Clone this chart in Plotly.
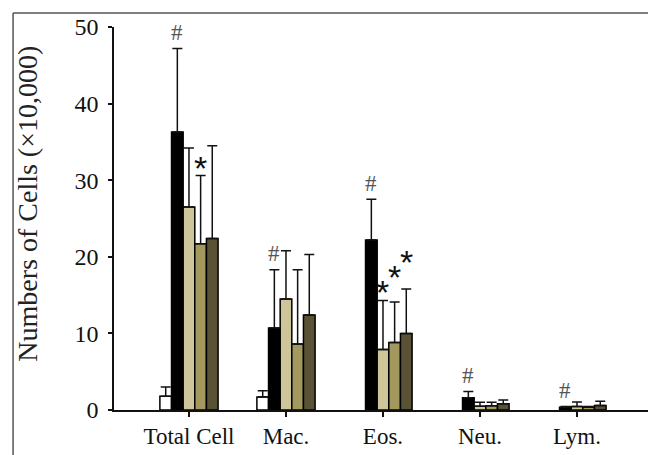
import plotly.graph_objects as go

categories = ["Total Cell", "Mac.", "Eos.", "Neu.", "Lym."]
series_names = ["Group 1", "Group 2", "Group 3", "Group 4", "Group 5"]
values = [
    [1.8, 1.7, None, None, None],
    [36.3, 10.7, 22.2, 1.6, 0.35],
    [26.5, 14.5, 7.9, 0.5, 0.45],
    [21.7, 8.6, 8.8, 0.55, 0.35],
    [22.4, 12.4, 10.0, 0.8, 0.6],
]
errors = [
    [1.2, 0.8, None, None, None],
    [10.9, 7.6, 5.3, 0.8, 0.1],
    [7.7, 6.3, 6.4, 0.5, 0.6],
    [8.9, 9.7, 5.3, 0.45, 0.1],
    [12.1, 7.9, 5.8, 0.5, 0.55],
]
colors = ["#ffffff", "#000000", "#cec59b", "#a3985d", "#5a5234"]
y_ticks = [0, 10, 20, 30, 40, 50]
# (category index, series index, symbol, extra pixel shift)
marks = [
    (0, 1, "#", 0), (0, 3, "*", 0),
    (1, 1, "#", 0),
    (2, 1, "#", 0), (2, 2, "*", 0), (2, 3, "*", 17), (2, 4, "*", 19),
    (3, 1, "#", 0),
    (4, 1, "#", 0),
]

SERIF = "Liberation Serif, Times New Roman, serif"
n = len(series_names)
bargap = 0.4
bw = (1 - bargap) / n

fig = go.Figure()
xs = list(range(len(categories)))
for i in range(n):
    fig.add_trace(go.Bar(
        x=xs, y=values[i], name=series_names[i],
        marker=dict(color=colors[i], line=dict(color="#000000", width=1.5)),
        error_y=dict(type="data", symmetric=False, array=errors[i],
                     arrayminus=[0] * len(categories),
                     color="#111111", thickness=1.5, width=5),
    ))

annotations = []
for ci, si, sym, shift in marks:
    top = (values[si][ci] or 0) + (errors[si][ci] or 0)
    xoff = (si - (n - 1) / 2) * bw
    if sym == "#":
        font = dict(family=SERIF, size=23, color="#555555")
        ys = 16 + shift
    else:
        font = dict(family="Liberation Sans, Arial, sans-serif", size=34, color="#111111")
        ys = 8 + shift
    annotations.append(dict(x=ci + xoff, y=top, xref="x", yref="y", text=sym,
                            showarrow=False, yanchor="middle", yshift=ys, font=font))

annotations.append(dict(x=-0.162, y=0.54, xref="paper", yref="paper",
                        text="Numbers of Cells (×10,000)", textangle=-90,
                        showarrow=False, xanchor="center", yanchor="middle",
                        font=dict(family=SERIF, size=28, color="#222222")))

frame_line = dict(color="#555555", width=1.5)
fig.update_layout(
    width=648, height=455,
    margin=dict(l=114, r=0, t=27, b=45),
    barmode="group", bargap=bargap, bargroupgap=0,
    showlegend=False,
    plot_bgcolor="white", paper_bgcolor="white",
    annotations=annotations,
    shapes=[
        dict(type="line", xref="paper", yref="paper",
             x0=-0.189, x1=1.2, y0=1.0366, y1=1.0366, line=frame_line, layer="below"),
        dict(type="line", xref="paper", yref="paper",
             x0=-0.189, x1=-0.189, y0=-0.3, y1=1.0366, line=frame_line, layer="below"),
    ],
    xaxis=dict(range=[-0.773, 4.732], tickvals=xs, ticktext=categories,
               showline=True, linecolor="#111111", linewidth=1.5,
               ticks="outside", ticklen=5, tickwidth=1.5, tickcolor="#111111",
               showgrid=False, zeroline=False,
               tickfont=dict(family=SERIF, size=23, color="#111111")),
    yaxis=dict(range=[0, 50], tickvals=y_ticks,
               showline=True, linecolor="#111111", linewidth=1.5,
               ticks="outside", ticklen=4, tickwidth=1.5, tickcolor="#111111",
               showgrid=False, zeroline=False, ticklabelstandoff=5,
               tickfont=dict(family=SERIF, size=24, color="#111111")),
)

fig.write_html("out.html", config={"displayModeBar": False},
               post_script="document.body.style.margin='0';document.body.style.overflow='hidden';")
